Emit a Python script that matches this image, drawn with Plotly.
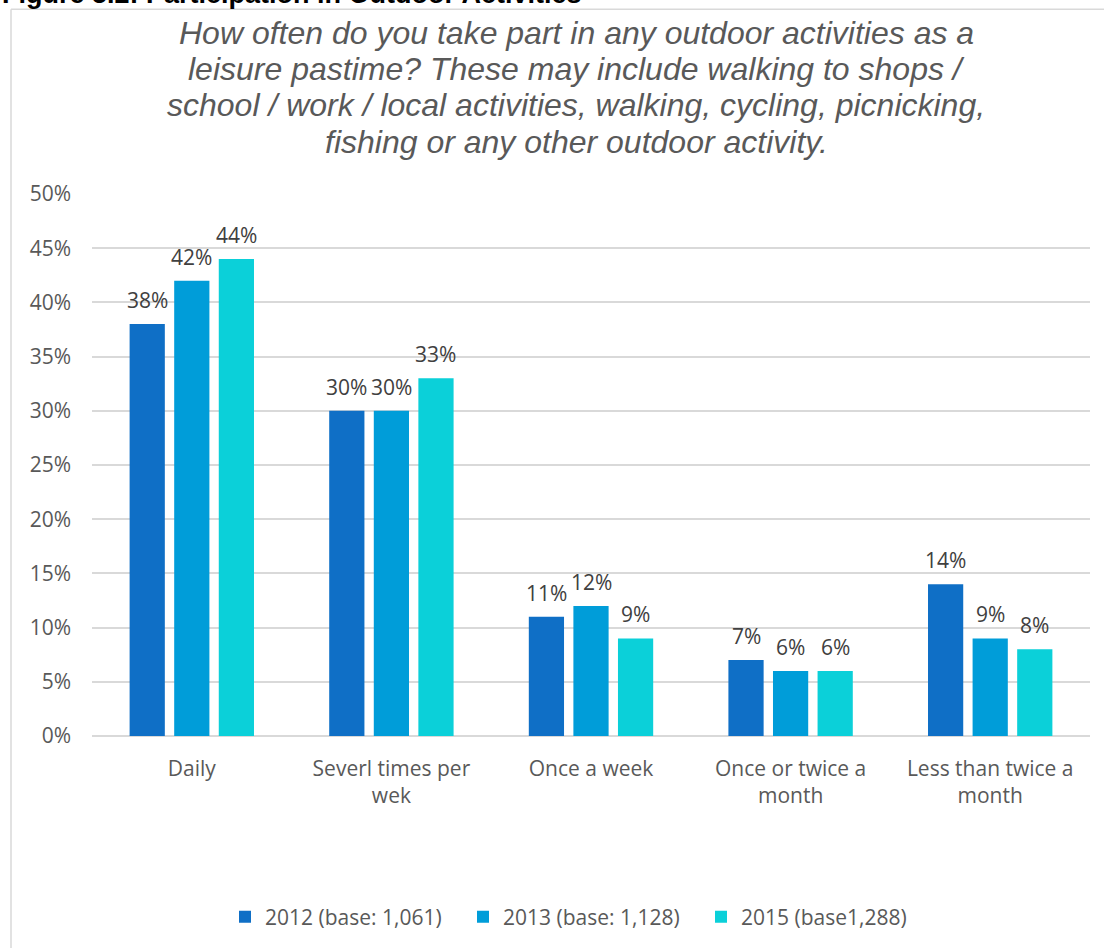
import plotly.graph_objects as go

# Survey categories and shares (percent) by survey year
categories = ["Daily", "Severl times per<br>wek", "Once a week",
              "Once or twice a<br>month", "Less than twice a<br>month"]
series_names = ["2012 (base: 1,061)", "2013 (base: 1,128)", "2015 (base1,288)"]
values_2012 = [38, 30, 11, 7, 14]
values_2013 = [42, 30, 12, 6, 9]
values_2015 = [44, 33, 9, 6, 8]
y_ticks = [0, 5, 10, 15, 20, 25, 30, 35, 40, 45, 50]
y_tick_labels = [f"{t}%" for t in y_ticks]
question_lines = [
    "How often do you take part in any outdoor activities as a",
    "leisure pastime? These may include walking to shops /",
    "school / work / local activities, walking, cycling, picnicking,",
    "fishing or any other outdoor activity.",
]

colors = ["#0F6FC6", "#009DD9", "#0BD0D9"]
W, H = 1104, 948
L, R, T, B = 92, 14, 194, 211
plot_h = H - T - B
plot_w = W - L - R
bar_step_px = 44.5  # horizontal distance between bar centres within a group

def py(pix):
    # pixel row -> paper y
    return (H - B - pix) / plot_h

def px(pix):
    return (pix - L) / plot_w

label_font = dict(family="Open Sans", size=21, color="#404040")
tick_font = dict(family="Open Sans", size=21, color="#595959")

fig = go.Figure()
annotations = []
all_series = [values_2012, values_2013, values_2015]
for i, (name, vals, col) in enumerate(zip(series_names, all_series, colors)):
    fig.add_trace(go.Bar(
        x=categories, y=vals, name=name,
        marker=dict(color=col, line=dict(width=0)),
    ))
    # value labels above each bar
    for cat, v in zip(categories, vals):
        annotations.append(dict(
            x=cat, y=v, xref="x", yref="y", text=f"{v}%", showarrow=False,
            xanchor="center", yanchor="bottom",
            xshift=(i - 1) * bar_step_px, yshift=8, font=label_font,
        ))

annotations.append(dict(
    text="<b>Figure 5.2: Participation in Outdoor Activities</b>",
    xref="paper", yref="paper", x=px(0), y=py(11), xanchor="left", yanchor="bottom",
    showarrow=False, font=dict(family="Liberation Sans", size=27, color="#000000")))

for line, ypix in zip(question_lines, [33, 69, 105, 142]):
    annotations.append(dict(
        text=f"<i>{line}</i>", xref="paper", yref="paper",
        x=px(576), y=py(ypix), xanchor="center", yanchor="middle",
        showarrow=False, font=dict(family="Liberation Sans", size=32, color="#595959")))

fig.update_layout(
    width=W, height=H,
    margin=dict(l=L, r=R, t=T, b=B),
    paper_bgcolor="white", plot_bgcolor="white",
    barmode="group", bargap=0.33, bargroupgap=0.21,
    showlegend=True,
    legend=dict(orientation="h", x=px(225), xanchor="left", y=py(917), yanchor="middle",
                font=tick_font, itemwidth=30, tracegroupgap=0,
                entrywidth=193, entrywidthmode="pixels"),
    font=tick_font,
    xaxis=dict(showgrid=False, showline=False, ticks="", ticklabelstandoff=18,
               tickfont=tick_font),
    yaxis=dict(range=[0, 50], tickvals=y_ticks, ticktext=y_tick_labels,
               showgrid=True, gridcolor="#D9D9D9", gridwidth=1.5,
               zeroline=True, zerolinecolor="#D9D9D9", zerolinewidth=1.5,
               showline=False, ticks="", ticklabelstandoff=20,
               tickfont=tick_font),
    shapes=[
        dict(type="line", xref="paper", yref="paper", x0=px(11), x1=px(11),
             y0=py(9), y1=py(960), line=dict(color="#D9D9D9", width=1.5)),
        dict(type="line", xref="paper", yref="paper", x0=px(11), x1=px(1110),
             y0=py(9), y1=py(9), line=dict(color="#D9D9D9", width=1.5)),
    ],
    annotations=annotations,
)

fig.write_html("out.html")
